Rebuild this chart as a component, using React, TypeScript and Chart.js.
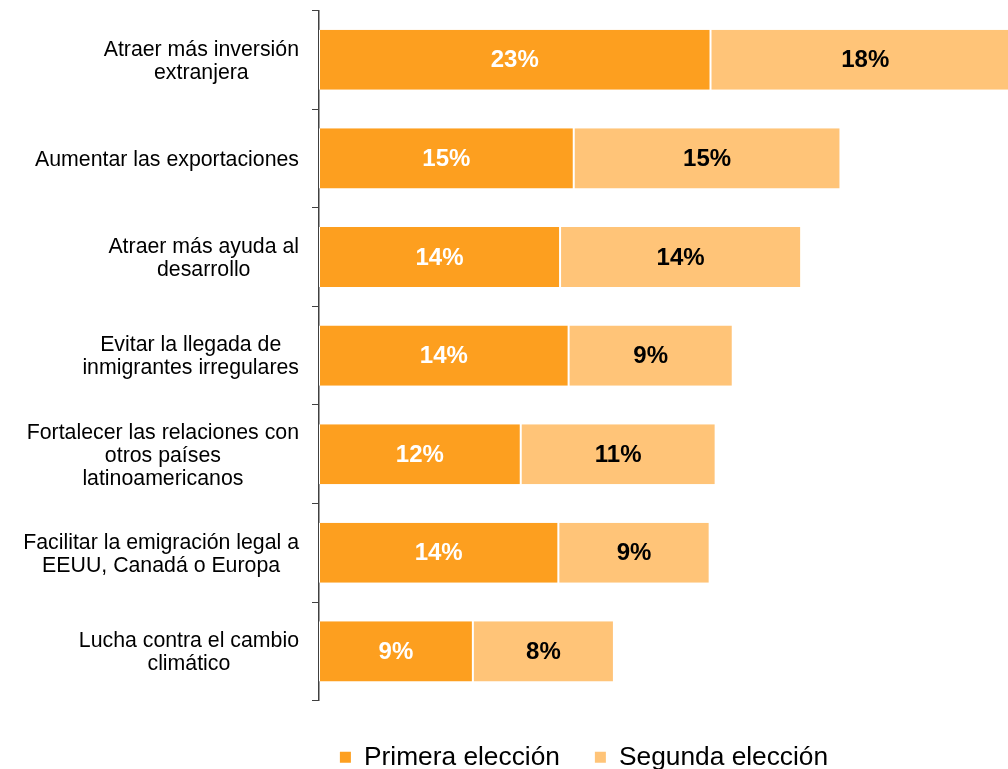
import React, { useEffect, useRef } from 'react';
import { Chart, registerables } from 'chart.js';

Chart.register(...registerables);

// ---- data ----
const categories: string[][] = [
  ['Atraer más inversión', 'extranjera'],
  ['Aumentar las exportaciones'],
  ['Atraer más ayuda al', 'desarrollo'],
  ['Evitar la llegada de', 'inmigrantes irregulares'],
  ['Fortalecer las relaciones con', 'otros países', 'latinoamericanos'],
  ['Facilitar la emigración legal a', 'EEUU, Canadá o Europa'],
  ['Lucha contra el cambio', 'climático'],
];
const seriesNames = ['Primera elección', 'Segunda elección'];
const primera = [22.9, 14.9, 14.1, 14.6, 11.8, 14.0, 9.0];
const segunda = [18.1, 15.6, 14.1, 9.6, 11.4, 8.85, 8.25];
const primeraLabels = ['23%', '15%', '14%', '14%', '12%', '14%', '9%'];
const segundaLabels = ['18%', '15%', '14%', '9%', '11%', '9%', '8%'];
const xMin = 0;
const xMax = 40.3;

const FONT = "'Liberation Sans', Arial, Helvetica, sans-serif";
const PRIMARY = '#FD9F1F';
const SECONDARY = '#FFC478';

const categoryLabelPlugin = {
  id: 'categoryLabels',
  afterDraw(chart: any) {
    const ctx = chart.ctx;
    const y = chart.scales.y;
    const right = y.right - 20;
    const lh = 23;
    ctx.save();
    ctx.font = `21.3px ${FONT}`;
    ctx.fillStyle = '#000';
    ctx.textAlign = 'center';
    ctx.textBaseline = 'middle';
    (chart.data.labels as any[]).forEach((lines, i) => {
      const arr: string[] = Array.isArray(lines) ? lines : [lines];
      const widest = Math.max(...arr.map((l) => ctx.measureText(l).width));
      const cx = right - widest / 2;
      const cy = y.getPixelForValue(i) + 1.5;
      arr.forEach((l, j) => {
        ctx.fillText(l, cx, cy + (j - (arr.length - 1) / 2) * lh);
      });
    });
    ctx.restore();
  },
};

const barLabelPlugin = {
  id: 'barLabels',
  afterDatasetsDraw(chart: any) {
    const ctx = chart.ctx;
    ctx.save();
    ctx.font = `bold 24px ${FONT}`;
    ctx.textAlign = 'center';
    ctx.textBaseline = 'middle';
    chart.data.datasets.forEach((ds: any, di: number) => {
      const meta = chart.getDatasetMeta(di);
      meta.data.forEach((el: any, i: number) => {
        const { x, y, base } = el.getProps(['x', 'y', 'base'], true);
        ctx.fillStyle = ds.labelColor;
        ctx.fillText(ds.valueLabels[i], (x + base) / 2, y + 1);
      });
    });
    ctx.restore();
  },
};

export default function App() {
  const ref = useRef<HTMLCanvasElement | null>(null);

  useEffect(() => {
    if (!ref.current) return;
    document.body.style.overflow = 'hidden';
    const chart = new Chart(ref.current, {
      type: 'bar',
      data: {
        labels: categories,
        datasets: [
          {
            label: seriesNames[0],
            data: primera,
            backgroundColor: PRIMARY,
            borderColor: '#ffffff',
            borderWidth: { left: 1, right: 1, top: 0, bottom: 0 },
            borderSkipped: false,
            barPercentage: 0.61,
            categoryPercentage: 1,
            valueLabels: primeraLabels,
            labelColor: '#ffffff',
          } as any,
          {
            label: seriesNames[1],
            data: segunda,
            backgroundColor: SECONDARY,
            borderColor: '#ffffff',
            borderWidth: { left: 1, right: 1, top: 0, bottom: 0 },
            borderSkipped: false,
            barPercentage: 0.61,
            categoryPercentage: 1,
            valueLabels: segundaLabels,
            labelColor: '#000000',
          } as any,
        ],
      },
      options: {
        indexAxis: 'y',
        responsive: false,
        maintainAspectRatio: false,
        devicePixelRatio: 1,
        animation: false,
        layout: { padding: { left: 160, right: 0, top: 10.5, bottom: -11.5 } },
        scales: {
          x: {
            stacked: true,
            min: xMin,
            max: xMax,
            display: true,
            grid: { display: false },
            border: { display: false },
            ticks: { display: false },
            afterFit: (s: any) => {
              s.height = 8.5;
            },
          },
          y: {
            stacked: true,
            grid: {
              display: true,
              offset: true,
              drawOnChartArea: false,
              drawTicks: true,
              tickLength: 7,
              color: '#404040',
              lineWidth: 1,
            },
            border: { display: true, color: '#404040', width: 1.5 },
            ticks: { display: false },
            afterFit: (s: any) => {
              s.width = 159;
            },
          },
        },
        plugins: {
          tooltip: { enabled: false },
          legend: {
            position: 'bottom',
            labels: {
              color: '#000',
              font: { family: FONT, size: 26.3 },
              boxWidth: 11,
              boxHeight: 11,
              padding: 35,
              generateLabels: (c: any) =>
                Chart.defaults.plugins.legend.labels
                  .generateLabels(c)
                  .map((l: any) => ({ ...l, lineWidth: 0, strokeStyle: 'rgba(0,0,0,0)' })),
            },
          },
        },
      } as any,
      plugins: [categoryLabelPlugin, barLabelPlugin],
    });
    return () => chart.destroy();
  }, []);

  return (
    <div style={{ position: 'absolute', left: 0, top: 0, width: 1008, height: 769, background: '#fff' }}>
      <canvas ref={ref} width={1008} height={769} style={{ display: 'block' }} />
    </div>
  );
}
